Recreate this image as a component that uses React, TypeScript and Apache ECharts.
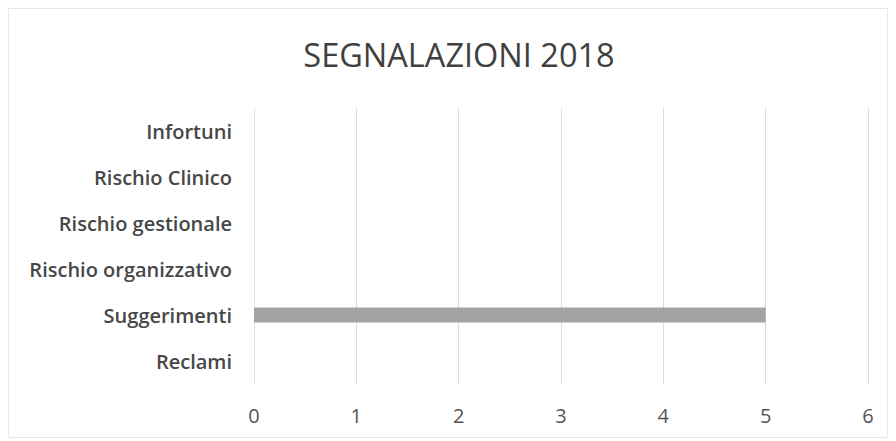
import React, { useEffect, useRef } from "react";
import * as echarts from "echarts";

const categories = [
  "Reclami",
  "Suggerimenti",
  "Rischio organizzativo",
  "Rischio gestionale",
  "Rischio Clinico",
  "Infortuni",
];
const values = [0, 5, 0, 0, 0, 0];
const titleText = "SEGNALAZIONI 2018";

export default function App() {
  const ref = useRef<HTMLDivElement>(null);
  useEffect(() => {
    if (!ref.current) return;
    const chart = echarts.init(ref.current, undefined, { renderer: "svg" });
    chart.setOption({
      animation: false,
      backgroundColor: "#ffffff",
      title: {
        text: titleText,
        left: 454,
        textAlign: "center",
        top: 33,
        textStyle: {
          fontFamily: "Open Sans",
          fontSize: 32.5,
          fontWeight: "normal",
          color: "#404040",
        },
      },
      graphic: [
        {
          type: "rect",
          shape: { x: 8.5, y: 8.5, width: 879, height: 429 },
          style: { fill: "none", stroke: "#e6e6e6", lineWidth: 1 },
          silent: true,
        },
      ],
      grid: { left: 254, right: 28, top: 108, bottom: 57 },
      xAxis: {
        type: "value",
        min: 0,
        max: 6,
        interval: 1,
        axisLine: { show: false },
        axisTick: { show: false },
        splitLine: { show: true, lineStyle: { color: "#dcdcdc", width: 1 } },
        axisLabel: {
          margin: 21,
          fontFamily: "Open Sans",
          fontSize: 20,
          color: "#555555",
        },
      },
      yAxis: {
        type: "category",
        data: categories,
        axisLine: { show: true, lineStyle: { color: "#e4e4e4" } },
        axisTick: { show: false },
        axisLabel: {
          margin: 22,
          fontFamily: "Open Sans",
          fontSize: 20,
          fontWeight: 600,
          color: "#474747",
        },
      },
      series: [
        {
          type: "bar",
          data: values,
          barWidth: 15,
          itemStyle: { color: "#a3a3a3" },
        },
      ],
    });
    return () => chart.dispose();
  }, []);
  return (
    <div
      ref={ref}
      style={{ position: "fixed", left: 0, top: 0, width: 896, height: 441 }}
    />
  );
}
